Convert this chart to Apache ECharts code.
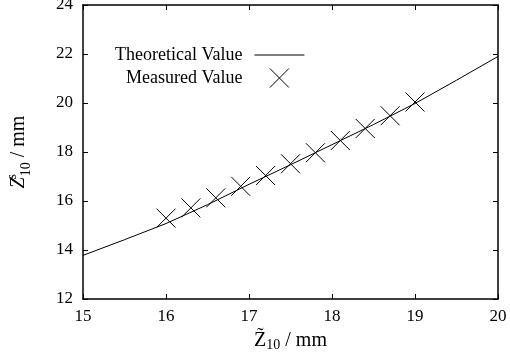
<!DOCTYPE html>
<html>
<head>
<meta charset="utf-8">
<script src="https://cdn.jsdelivr.net/npm/echarts@6/dist/echarts.min.js"></script>
<style>
  html, body { margin: 0; padding: 0; background: #fff; }
  #chart { width: 510px; height: 362px; }
</style>
</head>
<body>
<div id="chart"></div>
<script>
// theoretical curve
const theoryX = [15, 15.5, 16, 16.5, 17, 17.5, 18, 18.5, 19, 19.5, 20];
const theoryY = [13.78, 14.42, 15.08, 15.85, 16.68, 17.48, 18.3, 19.12, 19.98, 20.93, 21.9];

// measured points
const measX = [16.0, 16.3, 16.6, 16.9, 17.2, 17.5, 17.8, 18.1, 18.4, 18.7, 19.0];
const measY = [15.3, 15.72, 16.13, 16.6, 17.04, 17.52, 17.97, 18.47, 18.96, 19.48, 20.04];

const chart = echarts.init(document.getElementById('chart'));
const font = 'Liberation Serif';
const crossPath = 'path://M0,0L10,10M10,0L0,10';

const frameAxis = {
  axisLine: { show: true, lineStyle: { color: '#000', width: 1.5 } },
  axisTick: { show: true, inside: true, length: 5, lineStyle: { color: '#000', width: 1 } },
  splitLine: { show: false },
};

const option = {
  animation: false,
  backgroundColor: '#fff',
  grid: { left: 83, right: 12, top: 5, bottom: 63, outerBoundsMode: 'none', containLabel: false },
  legend: {
    orient: 'vertical',
    left: 110,
    top: 41,
    align: 'right',
    itemGap: 4,
    itemWidth: 50,
    itemHeight: 19,
    textStyle: { fontFamily: font, fontSize: 18, color: '#000', padding: [0, 7, 0, 0] },
    data: [
      { name: 'Theoretical Value', icon: 'path://M0,0H50V1H0Z', itemStyle: { color: '#000', borderWidth: 0 } },
      { name: 'Measured Value', itemStyle: { color: 'transparent', borderColor: '#000', borderWidth: 1 } }
    ]
  },
  xAxis: [
    Object.assign({
      type: 'value', min: 15, max: 20, interval: 1,
      name: '{z|Z̃}{sub|10}{t| / mm}',
      nameLocation: 'middle', nameGap: 30,
      nameTextStyle: {
        rich: {
          z: { fontFamily: font, fontSize: 20, color: '#000' },
          sub: { fontFamily: font, fontSize: 14, color: '#000', padding: [9, 0, 0, 0] },
          t: { fontFamily: font, fontSize: 20, color: '#000' }
        }
      },
      axisLabel: { fontFamily: font, fontSize: 17, color: '#000', margin: 9 }
    }, frameAxis),
    Object.assign({
      type: 'value', min: 15, max: 20, interval: 1, position: 'top',
      axisLabel: { show: false }
    }, frameAxis)
  ],
  yAxis: [
    Object.assign({
      type: 'value', min: 12, max: 24, interval: 2,
      name: '{z|Z}{sup|s}{sub|10}{t| / mm}',
      nameLocation: 'middle', nameGap: 50,
      nameTextStyle: {
        rich: {
          z: { fontFamily: font, fontSize: 20, fontStyle: 'italic', color: '#000', lineHeight: 28 },
          sup: { fontFamily: font, fontSize: 14, color: '#000', width: 1, verticalAlign: 'top', lineHeight: 28 },
          sub: { fontFamily: font, fontSize: 14, color: '#000', verticalAlign: 'bottom', lineHeight: 28 },
          t: { fontFamily: font, fontSize: 20, color: '#000', lineHeight: 28 }
        }
      },
      axisLabel: { fontFamily: font, fontSize: 17, color: '#000', margin: 10 }
    }, frameAxis),
    Object.assign({
      type: 'value', min: 12, max: 24, interval: 2, position: 'right',
      axisLabel: { show: false }
    }, frameAxis)
  ],
  series: [
    {
      name: 'Theoretical Value',
      type: 'line',
      data: theoryX.map((x, i) => [x, theoryY[i]]),
      showSymbol: false,
      symbol: 'none',
      lineStyle: { color: '#000', width: 1 },
      itemStyle: { color: '#000' }
    },
    {
      name: 'Measured Value',
      type: 'scatter',
      data: measX.map((x, i) => [x, measY[i]]),
      symbol: crossPath,
      symbolSize: 19,
      itemStyle: { color: 'transparent', borderColor: '#000', borderWidth: 1, opacity: 1 }
    }
  ]
};

chart.setOption(option);
</script>
</body>
</html>
